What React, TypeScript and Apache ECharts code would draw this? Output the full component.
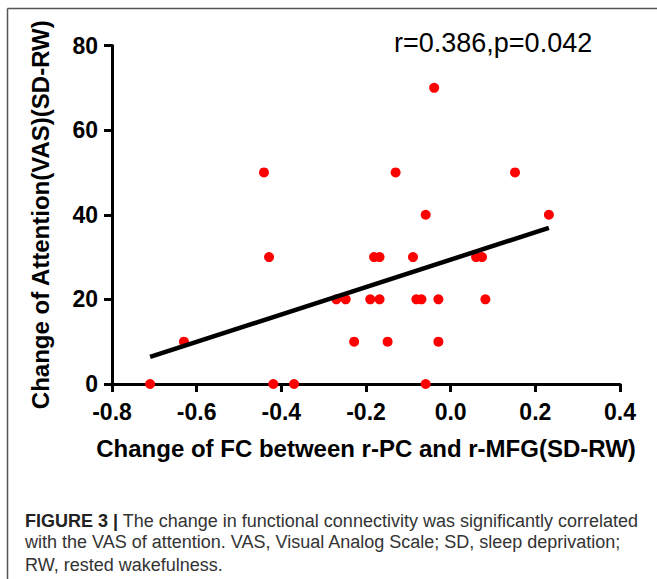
import React, { useEffect, useRef } from "react";
import * as echarts from "echarts";

// Change of FC between r-PC and r-MFG (SD-RW)
const fcChange = [
  -0.71, -0.63, -0.441, -0.429, -0.419, -0.37, -0.27, -0.248, -0.228, -0.19,
  -0.168, -0.181, -0.168, -0.149, -0.13, -0.039, -0.059, -0.089, -0.081, -0.069,
  -0.029, -0.029, -0.059, 0.06, 0.074, 0.082, 0.152, 0.232,
];
// Change of Attention (VAS) (SD-RW)
const vasChange = [
  0, 10, 50, 30, 0, 0, 20, 20, 10, 20,
  20, 30, 30, 10, 50, 70, 40, 30, 20, 20,
  20, 10, 0, 30, 30, 20, 50, 40,
];
// Regression line end points
const fitLineX = [-0.71, 0.232];
const fitLineY = [6.4, 36.9];

const xAxisTitle = "Change of FC between r-PC and r-MFG(SD-RW)";
const yAxisTitle = "Change of Attention(VAS)(SD-RW)";
const statText = "r=0.386,p=0.042";
const captionLines = [
  "{b|FIGURE 3 |} The change in functional connectivity was significantly correlated",
  "with the VAS of attention. VAS, Visual Analog Scale; SD, sleep deprivation;",
  "RW, rested wakefulness.",
];

const FONT = "'Liberation Sans', Arial, Helvetica, sans-serif";

export default function App() {
  const ref = useRef<HTMLDivElement>(null);
  useEffect(() => {
    if (!ref.current) return;
    const chart = echarts.init(ref.current, undefined, { renderer: "svg" });
    const points = fcChange.map((x, i) => [x, vasChange[i]]);
    const fit = fitLineX.map((x, i) => [x, fitLineY[i]]);
    const axisCommon = {
      axisLine: { show: true, onZero: false, lineStyle: { color: "#000", width: 3 } },
      axisTick: { show: true, length: 8, lineStyle: { color: "#000", width: 3 } },
      splitLine: { show: false },
    };
    chart.setOption({
      animation: false,
      backgroundColor: "#fff",
      textStyle: { fontFamily: FONT },
      grid: { left: 112, right: 37, top: 45.5, bottom: 195, containLabel: false },
      xAxis: {
        type: "value",
        min: -0.8,
        max: 0.4,
        interval: 0.2,
        ...axisCommon,
        axisLabel: {
          margin: 16,
          fontSize: 23,
          fontWeight: "bold",
          color: "#000",
          fontFamily: FONT,
          formatter: (v: number) => (Math.abs(v) < 1e-9 ? "0.0" : v.toFixed(1)),
        },
        name: xAxisTitle,
        nameLocation: "middle",
        nameGap: 52,
        nameTextStyle: { fontSize: 24, fontWeight: "bold", color: "#000", fontFamily: FONT },
      },
      yAxis: {
        type: "value",
        min: 0,
        max: 80,
        interval: 20,
        ...axisCommon,
        axisLabel: {
          margin: 14,
          fontSize: 23,
          fontWeight: "bold",
          color: "#000",
          fontFamily: FONT,
        },
        name: yAxisTitle,
        nameLocation: "middle",
        nameGap: 60,
        nameTextStyle: { fontSize: 24, fontWeight: "bold", color: "#000", fontFamily: FONT },
      },
      series: [
        {
          type: "scatter",
          data: points,
          symbol: "circle",
          symbolSize: 10,
          itemStyle: { color: "#ff0000", opacity: 1 },
          z: 2,
        },
        {
          type: "line",
          data: fit,
          symbol: "none",
          lineStyle: { color: "#000", width: 4.5 },
          z: 3,
        },
      ],
      graphic: [
        {
          type: "line",
          shape: { x1: 7.5, y1: 8.5, x2: 657, y2: 8.5 },
          style: { stroke: "#555", lineWidth: 1.5 },
        },
        {
          type: "line",
          shape: { x1: 7.5, y1: 8.5, x2: 7.5, y2: 579 },
          style: { stroke: "#555", lineWidth: 1.5 },
        },
        {
          type: "text",
          x: 394,
          y: 42.5,
          style: {
            text: statText,
            font: `27px ${FONT}`,
            fill: "#000",
            align: "left",
            verticalAlign: "middle",
          },
        },
        ...captionLines.map((t, i) => ({
          type: "text",
          x: 25,
          y: [520.5, 542, 564.5][i],
          style: {
            text: t,
            font: `18px ${FONT}`,
            fill: "#333",
            align: "left",
            verticalAlign: "middle",
            rich: {
              b: { font: `bold 18px ${FONT}`, fill: "#222" },
            },
          },
        })),
      ],
    });
    return () => chart.dispose();
  }, []);
  return (
    <div
      ref={ref}
      style={{ position: "absolute", left: 0, top: 0, width: 657, height: 579 }}
    />
  );
}
